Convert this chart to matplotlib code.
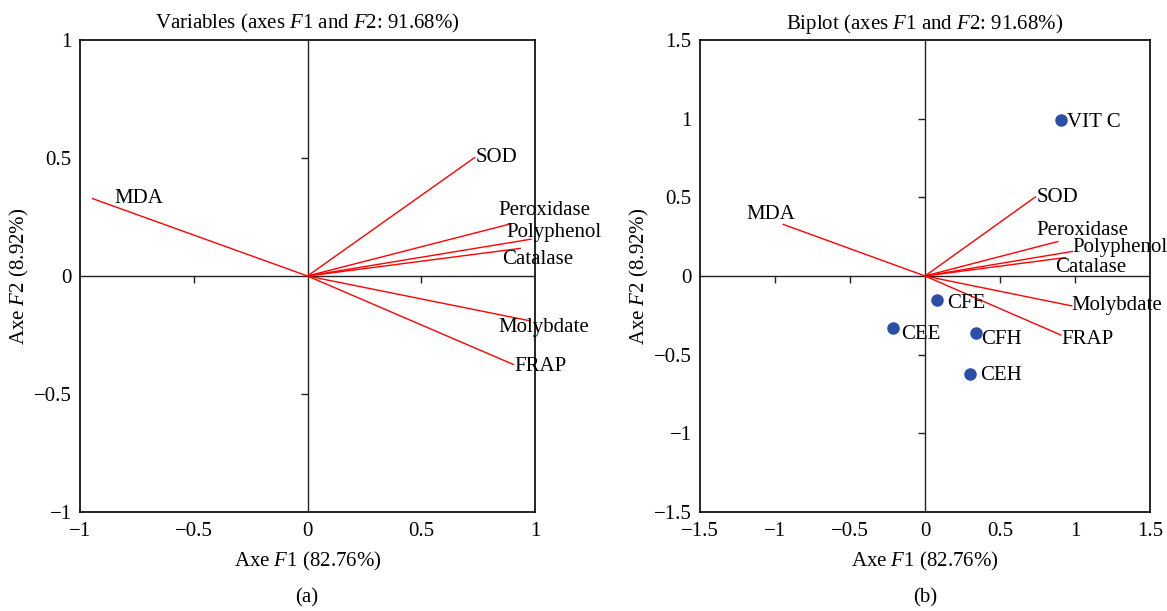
"""PCA correlation circle and biplot (axes F1 and F2)."""

import matplotlib
matplotlib.use("Agg")
import matplotlib.pyplot as plt
import numpy as np

plt.rcParams["font.family"] = ["Liberation Serif", "DejaVu Serif"]
plt.rcParams["mathtext.fontset"] = "custom"
plt.rcParams["mathtext.rm"] = "Liberation Serif"
plt.rcParams["mathtext.it"] = "Liberation Serif:italic"
plt.rcParams["font.size"] = 15

# variable loadings on F1 / F2
variables = ["MDA", "SOD", "Peroxidase", "Polyphenol", "Catalase", "Molybdate", "FRAP"]
var_f1 = [-0.945, 0.735, 0.885, 0.982, 0.935, 0.978, 0.905]
var_f2 = [0.328, 0.502, 0.219, 0.156, 0.117, -0.190, -0.375]

# observations (biplot only)
samples = ["VIT C", "CFE", "CEE", "CFH", "CEH"]
obs_f1 = [0.904, 0.080, -0.212, 0.340, 0.297]
obs_f2 = [0.991, -0.154, -0.333, -0.363, -0.626]

# label offsets in pixels (x, y)
var_offsets_a = [(22, 0), (1, 0), (-10, 14), (-25, 7), (-18, -11), (-32, -7), (1, -2)]
var_offsets_b = [(-37, 10), (1, 0), (-21, 11), (0, 4), (-10, -10), (0, 0), (1, -5)]
obs_offsets = [(6, -2), (10, -3), (8, -6), (5, -6), (11, -1)]

ticks_a = [-1, -0.5, 0, 0.5, 1]
ticks_b = [-1.5, -1, -0.5, 0, 0.5, 1, 1.5]

title = r"{} (axes $\mathit{{F}}$1 and $\mathit{{F}}$2: 91.68%)"
xlab = r"Axe $\mathit{F}$1 (82.76%)"
ylab = r"Axe $\mathit{F}$2 (8.92%)"

RED = "#ff0000"
BLUE = "#2b4ea8"
FS = 15


def fmt(v):
    s = f"{v:g}"
    return s.replace("-", "\u2212")


def setup(ax, ticks, name):
    lim = (ticks[0], ticks[-1])
    ax.set_xlim(lim)
    ax.set_ylim(lim)
    ax.set_xticks(ticks)
    ax.set_yticks(ticks)
    ax.set_xticklabels([fmt(t) for t in ticks])
    ax.set_yticklabels([fmt(t) for t in ticks])
    ax.tick_params(length=0, pad=7, labelsize=FS)
    ax.tick_params(axis="y", pad=6)
    for sp in ax.spines.values():
        sp.set_linewidth(1.2)
    ax.axhline(0, color="#222222", lw=1.0, zorder=1)
    ax.axvline(0, color="#222222", lw=1.0, zorder=1)
    inner = [t for t in ticks[1:-1] if t != 0]
    ax.plot(inner, np.zeros(len(inner)), ls="none", marker=3, ms=5,
            color="#222222", mew=1.0)
    ax.plot(np.zeros(len(inner)), inner, ls="none", marker=0, ms=5,
            color="#222222", mew=1.0)
    ax.set_title(title.format(name), fontsize=FS, pad=8)
    ax.set_xlabel(xlab, fontsize=FS, labelpad=7)
    ax.set_ylabel(ylab, fontsize=FS, labelpad=2)


def draw_vectors(ax, offsets):
    for name, x, y, off in zip(variables, var_f1, var_f2, offsets):
        ax.plot([0, x], [0, y], color=RED, lw=1.0, zorder=2)
        ax.annotate(name, (x, y), xytext=off, textcoords="offset pixels",
                    ha="left", va="center", fontsize=FS)


fig = plt.figure(figsize=(11.67, 6.11), dpi=100)
ax1 = fig.add_axes([80 / 1167, 99 / 611, 455 / 1167, 472 / 611])
ax2 = fig.add_axes([700 / 1167, 99 / 611, 450 / 1167, 472 / 611])

setup(ax1, ticks_a, "Variables")
draw_vectors(ax1, var_offsets_a)

setup(ax2, ticks_b, "Biplot")
draw_vectors(ax2, var_offsets_b)
ax2.plot(obs_f1, obs_f2, ls="none", marker="o", ms=8, color=BLUE, zorder=3)
for name, x, y, off in zip(samples, obs_f1, obs_f2, obs_offsets):
    ax2.annotate(name, (x, y), xytext=off, textcoords="offset pixels",
                 ha="left", va="center", fontsize=FS)

fig.text(307 / 1167, 1 - 598 / 611, "(a)", ha="center", va="center", fontsize=FS)
fig.text(925 / 1167, 1 - 598 / 611, "(b)", ha="center", va="center", fontsize=FS)

fig.savefig("out.png", dpi=100)
plt.close(fig)
